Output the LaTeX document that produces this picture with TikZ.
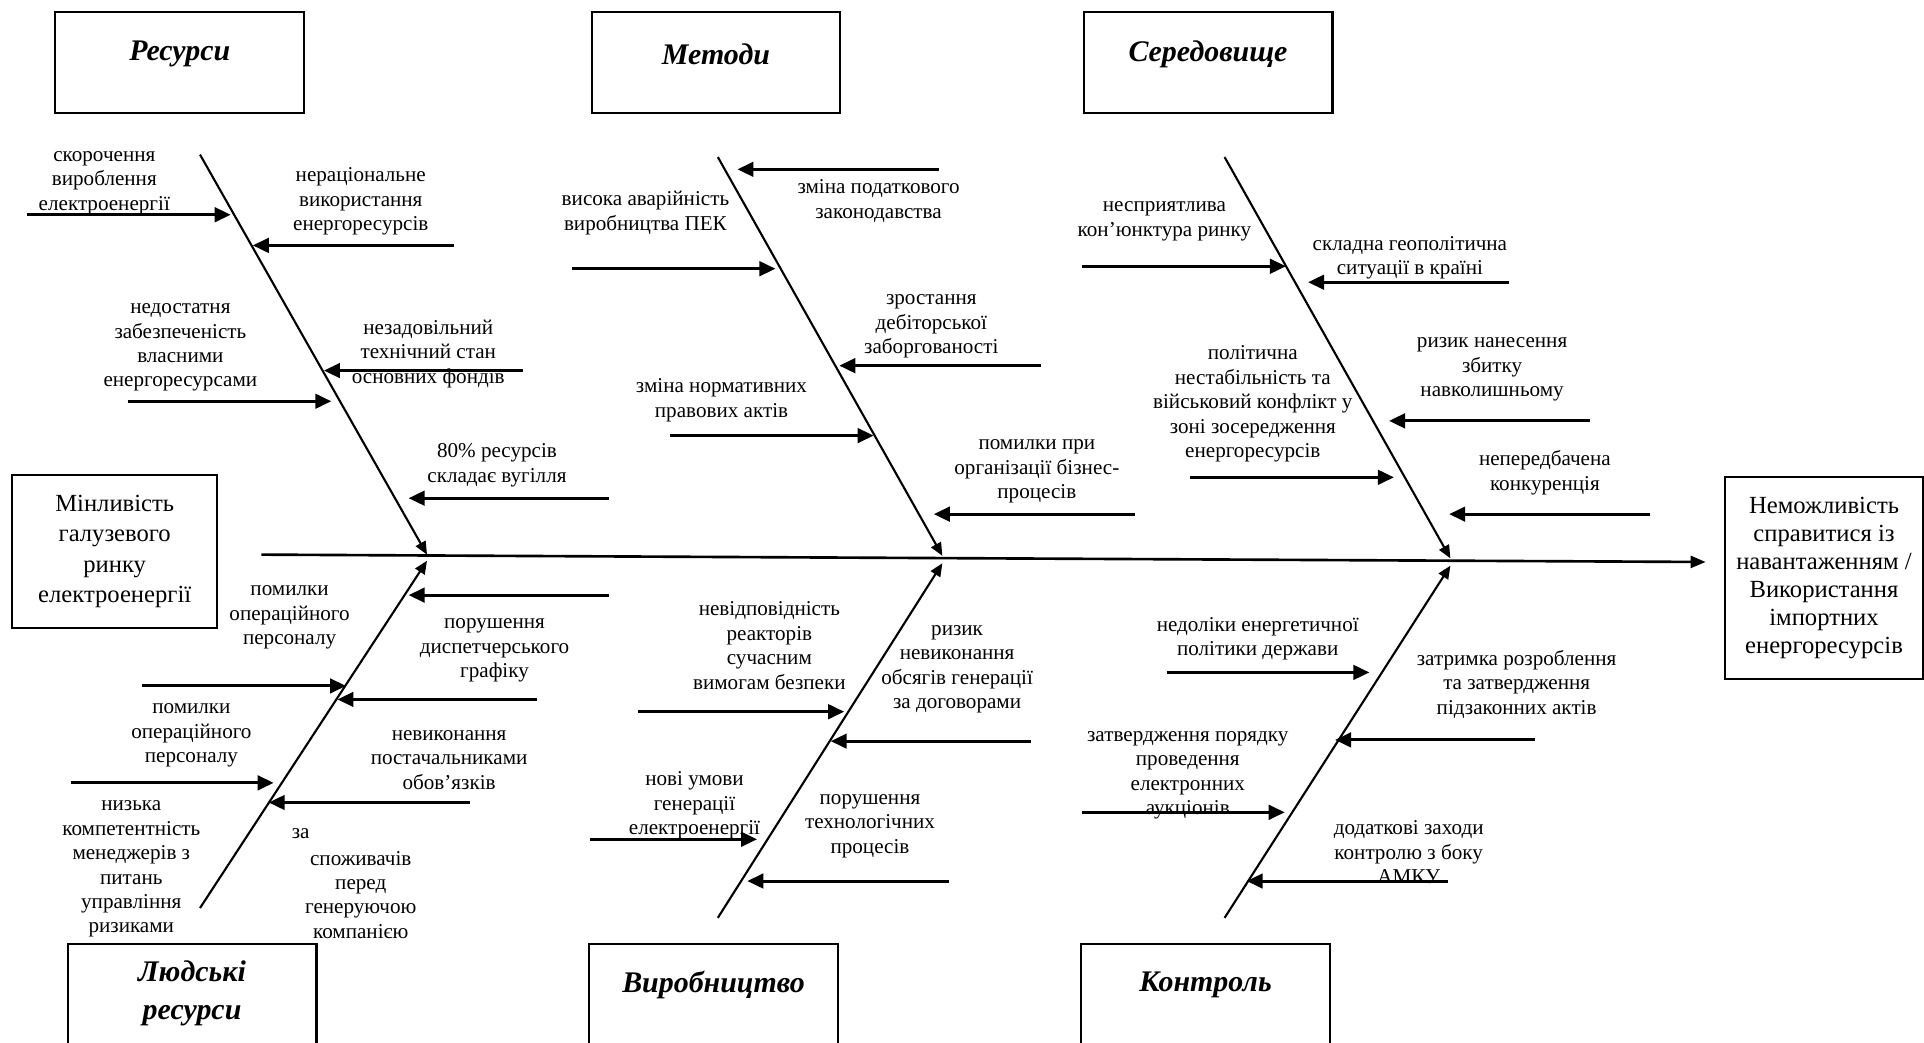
\documentclass[tikz,border=0pt]{standalone}
\usepackage{fontspec}
\setmainfont{Liberation Serif}
\usetikzlibrary{arrows.meta, positioning}

\begin{document}
\begin{tikzpicture}[
    x=0.0245cm, y=-0.0245cm,
    catbox/.style={rectangle, draw, line width=1.2pt, minimum width=4.97cm, minimum height=2.01cm},
    cattext/.style={font=\fontsize{17}{21.5}\selectfont\bfseries\itshape, align=center, yshift=-0.05cm},
    mainbox/.style={rectangle, draw, line width=1.2pt, align=center},
    reason/.style={align=center, inner sep=0pt, font=\fontsize{12}{13.9}\selectfont, yshift=-0.08cm},
    cause/.style={-{Triangle[length=3.2mm,width=2.9mm]}, line width=1.7pt},
    bone/.style={-{Triangle[length=2.6mm,width=2.2mm]}, line width=1.2pt},
    spine/.style={-{Triangle[length=3mm,width=2.4mm]}, line width=1.5pt}
]
    \useasboundingbox (0,0) rectangle (1568,850);

    % Source and effect
    \node[mainbox, minimum width=4.09cm, minimum height=3.06cm, font=\fontsize{14}{17.2}\selectfont] (source) at (93.5,449.5) {Мінливість\\галузевого\\ринку\\електроенергії};
    \node[mainbox, minimum width=3.94cm, minimum height=4.02cm, font=\fontsize{14}{16}\selectfont] (effect) at (1486.5,471) {Неможливість\\справитися із\\навантаженням /\\Використання\\імпортних\\енергоресурсів};

    \coordinate (tail) at (213,452);
    \coordinate (head) at (1390,458);
    \draw[spine] (tail) -- (head);

    % Categories
    \node[catbox] (res) at (146.5,51) {};
    \node[cattext] (res-t) at (146.5,42) {Ресурси};
    \node[catbox] (met) at (583.5,51) {};
    \node[cattext] (met-t) at (583.5,42) {Методи};
    \node[catbox] (env) at (984.5,51) {};
    \node[cattext] (env-t) at (984.5,42) {Середовище};
    \node[catbox] (hum) at (156.5,810) {};
    \node[cattext] (hum-t) at (156.5,807.5) {Людські\\ресурси};
    \node[catbox] (prod) at (581.5,810) {};
    \node[cattext] (prod-t) at (581.5,801) {Виробництво};
    \node[catbox] (ctrl) at (982.5,810) {};
    \node[cattext] (ctrl-t) at (982.5,801) {Контроль};

    % Bones
    \coordinate (res-a) at (163,126);  \coordinate (res-b) at (348,452);
    \coordinate (met-a) at (585,128);  \coordinate (met-b) at (768,453);
    \coordinate (env-a) at (998,128);  \coordinate (env-b) at (1182,455);
    \coordinate (hum-a) at (163,740);  \coordinate (hum-b) at (348,457);
    \coordinate (prod-a) at (585,748); \coordinate (prod-b) at (768,459);
    \coordinate (ctrl-a) at (998,748); \coordinate (ctrl-b) at (1182,461);
    \draw[bone] (res-a) -- (res-b);
    \draw[bone] (met-a) -- (met-b);
    \draw[bone] (env-a) -- (env-b);
    \draw[bone] (hum-a) -- (hum-b);
    \draw[bone] (prod-a) -- (prod-b);
    \draw[bone] (ctrl-a) -- (ctrl-b);

    % Resources
    \coordinate (res1-a) at (22,175);  \coordinate (res1-b) at (188,175);
    \coordinate (res2-a) at (370,200); \coordinate (res2-b) at (206,200);
    \coordinate (res3-a) at (104,327); \coordinate (res3-b) at (270,327);
    \coordinate (res4-a) at (426,302); \coordinate (res4-b) at (264,302);
    \coordinate (res5-a) at (496,406); \coordinate (res5-b) at (333,406);
    \draw[cause] (res1-a) -- (res1-b);
    \draw[cause] (res2-a) -- (res2-b);
    \draw[cause] (res3-a) -- (res3-b);
    \draw[cause] (res4-a) -- (res4-b);
    \draw[cause] (res5-a) -- (res5-b);
    \node[reason] (res1) at (85,146) {скорочення\\вироблення\\електроенергії};
    \node[reason] (res2) at (294,161) {нераціональне\\використання\\енергоресурсів};
    \node[reason] (res3) at (147,280) {недостатня\\забезпеченість\\власними\\енергоресурсами};
    \node[reason] (res4) at (349,285) {незадовільний\\технічний стан\\основних фондів};
    \node[reason] (res5) at (405,376) {80\% ресурсів\\складає вугілля};

    % Methods
    \coordinate (met1-a) at (765,138); \coordinate (met1-b) at (601,138);
    \coordinate (met2-a) at (466,219); \coordinate (met2-b) at (632,219);
    \coordinate (met3-a) at (848,298); \coordinate (met3-b) at (684,298);
    \coordinate (met4-a) at (546,355); \coordinate (met4-b) at (712,355);
    \coordinate (met5-a) at (925,419); \coordinate (met5-b) at (761,419);
    \draw[cause] (met1-a) -- (met1-b);
    \draw[cause] (met2-a) -- (met2-b);
    \draw[cause] (met3-a) -- (met3-b);
    \draw[cause] (met4-a) -- (met4-b);
    \draw[cause] (met5-a) -- (met5-b);
    \node[reason] (met1) at (716,160.5) {зміна податкового\\законодавства};
    \node[reason] (met2) at (526,170.5) {висока аварійність\\виробництва ПЕК};
    \node[reason] (met3) at (759,263) {зростання\\дебіторської\\заборгованості};
    \node[reason] (met4) at (588,323) {зміна нормативних\\правових актів};
    \node[reason] (met5) at (845,381) {помилки при\\організації бізнес-\\процесів};

    % Environment
    \coordinate (env1-a) at (882,217);  \coordinate (env1-b) at (1048,217);
    \coordinate (env2-a) at (1230,230); \coordinate (env2-b) at (1066,230);
    \coordinate (env3-a) at (970,389);  \coordinate (env3-b) at (1136,389);
    \coordinate (env4-a) at (1296,343); \coordinate (env4-b) at (1132,343);
    \coordinate (env5-a) at (1345,419); \coordinate (env5-b) at (1181,419);
    \draw[cause] (env1-a) -- (env1-b);
    \draw[cause] (env2-a) -- (env2-b);
    \draw[cause] (env3-a) -- (env3-b);
    \draw[cause] (env4-a) -- (env4-b);
    \draw[cause] (env5-a) -- (env5-b);
    \node[reason] (env1) at (949,177) {несприятлива\\кон’юнктура ринку};
    \node[reason] (env2) at (1149,207) {складна геополітична\\ситуації в країні};
    \node[reason] (env3) at (1021,326) {політична\\нестабільність та\\військовий конфлікт у\\зоні зосередження\\енергоресурсів};
    \node[reason] (env4) at (1216,298) {ризик нанесення\\збитку\\навколишньому};
    \node[reason] (env5) at (1259,382) {непередбачена\\конкуренція};

    % Human resources
    \coordinate (hum1-a) at (496,485); \coordinate (hum1-b) at (333,485);
    \coordinate (hum2-a) at (116,559); \coordinate (hum2-b) at (282,559);
    \coordinate (hum3-a) at (438,570); \coordinate (hum3-b) at (275,570);
    \coordinate (hum4-a) at (58,638);  \coordinate (hum4-b) at (223,638);
    \coordinate (hum5-a) at (383,654); \coordinate (hum5-b) at (219,654);
    \draw[cause] (hum1-a) -- (hum1-b);
    \draw[cause] (hum2-a) -- (hum2-b);
    \draw[cause] (hum3-a) -- (hum3-b);
    \draw[cause] (hum4-a) -- (hum4-b);
    \draw[cause] (hum5-a) -- (hum5-b);
    \node[reason] (hum1) at (403,527) {порушення\\диспетчерського\\графіку};
    \node[reason] (hum2) at (236,500) {помилки\\операційного\\персоналу};
    \node[reason] (hum3) at (366,616) {невиконання\\постачальниками\\обов’язків};
    \node[reason] (hum4) at (156,596) {помилки\\операційного\\персоналу};
    \node[reason] (hum5) at (245,676) {за};
    \node[reason] (hum5b) at (294,726) {споживачів\\перед\\генеруючою\\компанією};
    \node[reason] (hum6) at (107,705) {низька\\компетентність\\менеджерів з\\питань\\управління\\ризиками};

    % Production
    \coordinate (prod1-a) at (520,580); \coordinate (prod1-b) at (688,580);
    \coordinate (prod2-a) at (840,604); \coordinate (prod2-b) at (677,604);
    \coordinate (prod3-a) at (481,684); \coordinate (prod3-b) at (617,684);
    \coordinate (prod4-a) at (773,718); \coordinate (prod4-b) at (609,718);
    \draw[cause] (prod1-a) -- (prod1-b);
    \draw[cause] (prod2-a) -- (prod2-b);
    \draw[cause] (prod3-a) -- (prod3-b);
    \draw[cause] (prod4-a) -- (prod4-b);
    \node[reason] (prod1) at (627,523) {невідповідність\\реакторів\\сучасним\\вимогам безпеки};
    \node[reason] (prod2) at (780,542) {ризик\\невиконання\\обсягів генерації\\за договорами};
    \node[reason] (prod3) at (566,653) {нові умови\\генерації\\електроенергії};
    \node[reason] (prod4) at (709,670) {порушення\\технологічних\\процесів};

    % Control
    \coordinate (ctrl1-a) at (951,548);  \coordinate (ctrl1-b) at (1116,548);
    \coordinate (ctrl2-a) at (1251,603); \coordinate (ctrl2-b) at (1088,603);
    \coordinate (ctrl3-a) at (882,662);  \coordinate (ctrl3-b) at (1047,662);
    \coordinate (ctrl4-a) at (1180,718); \coordinate (ctrl4-b) at (1016,718);
    \draw[cause] (ctrl1-a) -- (ctrl1-b);
    \draw[cause] (ctrl2-a) -- (ctrl2-b);
    \draw[cause] (ctrl3-a) -- (ctrl3-b);
    \draw[cause] (ctrl4-a) -- (ctrl4-b);
    \node[reason] (ctrl1) at (1025,517.5) {недоліки енергетичної\\політики держави};
    \node[reason] (ctrl2) at (1236,554.5) {затримка розроблення\\та затвердження\\підзаконних актів};
    \node[reason] (ctrl3) at (968,628.5) {затвердження порядку\\проведення\\електронних\\аукціонів};
    \node[reason] (ctrl4) at (1148,691.5) {додаткові заходи\\контролю з боку\\АМКУ};
\end{tikzpicture}
\end{document}
